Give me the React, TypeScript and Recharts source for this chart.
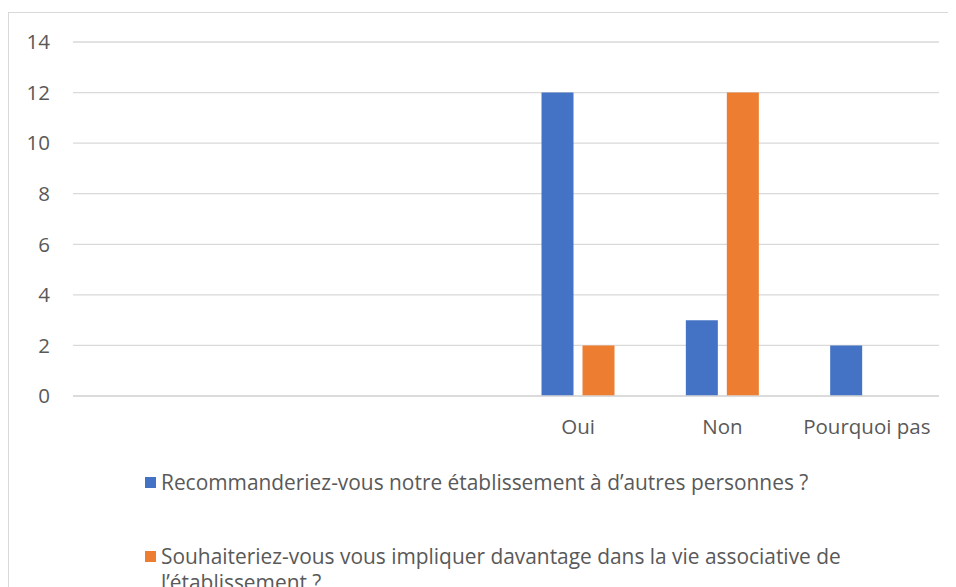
import React from "react";
import { BarChart, Bar, XAxis, YAxis, CartesianGrid } from "recharts";

const categories = ["", "", "", "Oui", "Non", "Pourquoi pas"];
const recommandValues = [null, null, null, 12, 3, 2];
const impliquerValues = [null, null, null, 2, 12, null];
const yTicks = [0, 2, 4, 6, 8, 10, 12, 14];

const seriesNames = [
  "Recommanderiez-vous notre établissement à d’autres personnes ?",
  "Souhaiteriez-vous vous impliquer davantage dans la vie associative de l’établissement ?",
];
const seriesColors = ["#4472c4", "#ed7d31"];

const data = categories.map((c, i) => ({
  cat: c,
  a: recommandValues[i],
  b: impliquerValues[i],
}));

const FONT = "'Open Sans', sans-serif";
const TEXT = "#595959";
const FS = 20.5;

function ChartLegend() {
  return (
    <div
      style={{
        position: "absolute",
        left: 137,
        top: 461,
        fontFamily: FONT,
        color: TEXT,
        fontSize: 20.9,
      }}
    >
      {seriesNames.map((name, i) => (
        <div
          key={i}
          style={{ display: "flex", alignItems: "flex-start", marginBottom: i === 0 ? 48 : 0, width: 730 }}
        >
          <span
            style={{
              display: "inline-block",
              width: 11,
              height: 11,
              background: seriesColors[i],
              marginTop: 8,
              marginRight: 5,
              flex: "none",
            }}
          />
          <span style={{ lineHeight: "26px" }}>{name}</span>
        </div>
      ))}
    </div>
  );
}

export default function App() {
  return (
    <div style={{ position: "relative", width: 940, height: 579, overflow: "visible" }}>
      <div
        style={{
          position: "absolute",
          left: 0,
          top: 4,
          width: 960,
          height: 600,
          border: "1px solid #d9d9d9",
          boxSizing: "border-box",
        }}
      />
      <div style={{ position: "absolute", left: 0, top: 0 }}>
        <BarChart
          width={948}
          height={575}
          data={data}
          margin={{ top: 34, right: 17, bottom: 157, left: 0 }}
          barCategoryGap="24.6%"
          barGap={9}
        >
          <CartesianGrid vertical={false} stroke="#d9d9d9" strokeWidth={1.3} />
          <XAxis
            dataKey="cat"
            height={30}
            tickLine={false}
            tickSize={0}
            tickMargin={23}
            axisLine={{ stroke: "#d9d9d9", strokeWidth: 1.3 }}
            tick={{ fill: TEXT, fontSize: FS, fontFamily: FONT }}
            interval={0}
          />
          <YAxis
            width={65}
            domain={[0, 14]}
            ticks={yTicks}
            tickLine={false}
            axisLine={false}
            tickSize={0}
            tickMargin={23}
            tick={{ fill: TEXT, fontSize: FS, fontFamily: FONT }}
          />
          <Bar dataKey="a" name={seriesNames[0]} fill={seriesColors[0]} isAnimationActive={false} />
          <Bar dataKey="b" name={seriesNames[1]} fill={seriesColors[1]} isAnimationActive={false} />
        </BarChart>
      </div>
      <ChartLegend />
    </div>
  );
}
